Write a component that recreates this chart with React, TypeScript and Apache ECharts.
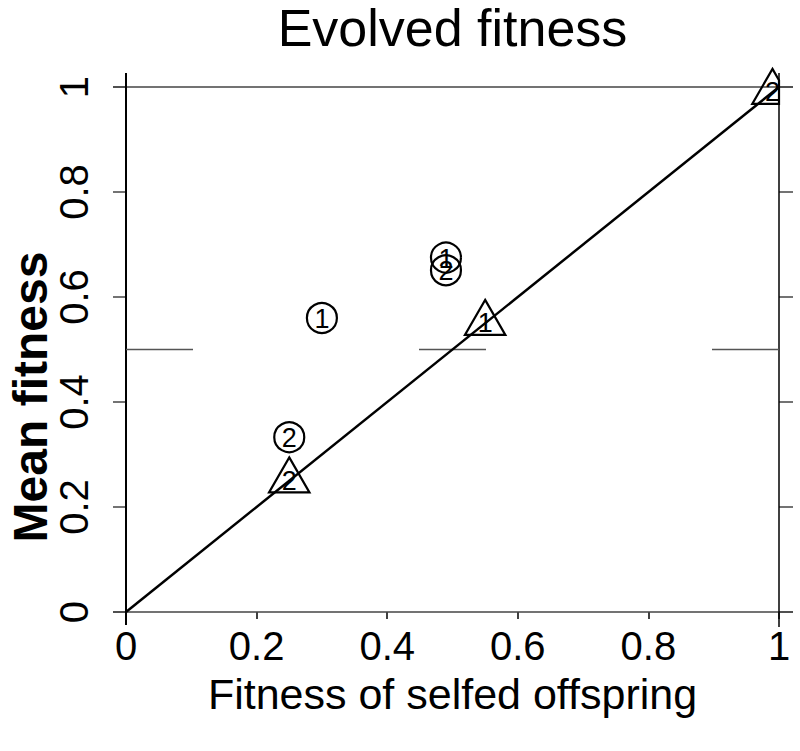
import React, { useEffect, useRef } from 'react';
import * as echarts from 'echarts';

const xTicks = [0, 0.2, 0.4, 0.6, 0.8, 1];
const yTicks = [0, 0.2, 0.4, 0.6, 0.8, 1];
const circleX = [0.30, 0.25, 0.49, 0.49];
const circleY = [0.56, 0.333, 0.675, 0.651];
const circleLabel = ['1', '2', '1', '2'];
const triX = [0.25, 0.55, 0.99];
const triY = [0.25, 0.55, 0.99];
const triLabel = ['2', '1', '2'];
const diagX = [0, 1];
const diagY = [0, 1];
const refLineY = 0.5;

const FONT = '"Liberation Sans", Arial, Helvetica, sans-serif';

function clipRight(pts: number[][], xr: number): number[][] {
  const out: number[][] = [];
  for (let i = 0; i < pts.length; i++) {
    const a = pts[i];
    const b = pts[(i + 1) % pts.length];
    const aIn = a[0] <= xr;
    const bIn = b[0] <= xr;
    if (aIn) out.push(a);
    if (aIn !== bIn) {
      const t = (xr - a[0]) / (b[0] - a[0]);
      out.push([xr, a[1] + t * (b[1] - a[1])]);
    }
  }
  return out;
}

export default function App() {
  const ref = useRef<HTMLDivElement>(null);
  useEffect(() => {
    if (!ref.current) return;
    const chart = echarts.init(ref.current, null, { renderer: 'svg' });
    const option: any = {
      animation: false,
      backgroundColor: '#fff',
      grid: { left: 126, right: 21, top: 87, bottom: 139, containLabel: false },
      xAxis: {
        type: 'value',
        min: xTicks[0],
        max: xTicks[xTicks.length - 1],
        interval: 0.2,
        axisLine: { show: false },
        splitLine: { show: false },
        axisTick: { show: true, length: 7, lineStyle: { color: '#000', width: 1.5 } },
        axisLabel: {
          fontSize: 40,
          color: '#000',
          fontFamily: FONT,
          margin: 14,
          formatter: (v: number) => String(Math.round(v * 10) / 10),
        },
        name: 'Fitness of selfed offspring',
        nameLocation: 'middle',
        nameGap: 60,
        nameTextStyle: { fontSize: 43, color: '#000', fontFamily: FONT },
      },
      yAxis: [
        {
          type: 'value',
          min: yTicks[0],
          max: yTicks[yTicks.length - 1],
          interval: 0.2,
          axisLine: { show: false },
          splitLine: { show: false },
          axisTick: { show: true, length: 13, lineStyle: { color: '#444', width: 1.5 } },
          axisLabel: {
            fontSize: 40,
            color: '#000',
            fontFamily: FONT,
            rotate: 90,
            margin: 32,
            formatter: (v: number) => String(Math.round(v * 10) / 10),
          },
        },
        {
          type: 'value',
          position: 'right',
          min: yTicks[0],
          max: yTicks[yTicks.length - 1],
          interval: 0.2,
          axisLine: { show: false },
          splitLine: { show: false },
          axisTick: { show: true, length: 14, lineStyle: { color: '#444', width: 1.5 } },
          axisLabel: { show: false },
        },
      ],
      series: [
        {
          type: 'line',
          data: [[0, refLineY], [1, refLineY]],
          symbol: 'none',
          silent: true,
          lineStyle: { color: '#555', width: 1.5, type: [67, 226] },
        },
        {
          type: 'line',
          data: diagX.map((x, i) => [x, diagY[i]]),
          symbol: 'none',
          silent: true,
          lineStyle: { color: '#000', width: 2.5 },
          z: 3,
        },
        {
          type: 'custom',
          clip: false,
          silent: true,
          z: 4,
          data: circleX.map((x, i) => [x, circleY[i]]),
          renderItem: (params: any, api: any) => {
            const p = api.coord([api.value(0), api.value(1)]);
            const lab = circleLabel[params.dataIndex];
            return {
              type: 'group',
              children: [
                {
                  type: 'circle',
                  shape: { cx: p[0], cy: p[1], r: 15 },
                  style: { fill: 'none', stroke: '#000', lineWidth: 2.2 },
                },
                {
                  type: 'text',
                  style: {
                    text: lab,
                    x: p[0],
                    y: p[1] + 1,
                    align: 'center',
                    verticalAlign: 'middle',
                    fontSize: 27,
                    fill: '#000',
                    fontFamily: FONT,
                  },
                },
              ],
            };
          },
        },
        {
          type: 'custom',
          clip: false,
          silent: true,
          z: 4,
          data: triX.map((x, i) => [x, triY[i]]),
          renderItem: (params: any, api: any) => {
            const p = api.coord([api.value(0), api.value(1)]);
            const cs = params.coordSys;
            const xr = cs.x + cs.width;
            const s = 15;
            const pts = [
              [p[0], p[1] - 1.555 * s],
              [p[0] + 1.347 * s, p[1] + 0.778 * s],
              [p[0] - 1.347 * s, p[1] + 0.778 * s],
            ];
            const clipped = clipRight(pts, xr);
            const lab = triLabel[params.dataIndex];
            return {
              type: 'group',
              children: [
                {
                  type: 'polygon',
                  shape: { points: clipped },
                  style: { fill: 'none', stroke: '#000', lineWidth: 2.2 },
                },
                {
                  type: 'text',
                  style: {
                    text: lab,
                    x: p[0],
                    y: p[1],
                    align: 'center',
                    verticalAlign: 'middle',
                    fontSize: 27,
                    fill: '#000',
                    fontFamily: FONT,
                  },
                },
              ],
            };
          },
        },
      ],
    };
    chart.setOption(option);

    const toPx = (x: number, y: number) =>
      chart.convertToPixel({ xAxisIndex: 0, yAxisIndex: 0 }, [x, y]) as number[];
    const p00 = toPx(0, 0);
    const p11 = toPx(1, 1);
    const ext = 13;
    chart.setOption({
      graphic: [
        {
          type: 'line',
          z: 2,
          shape: { x1: p00[0] - ext, y1: p00[1], x2: p11[0] + ext + 1, y2: p00[1] },
          style: { stroke: '#444', lineWidth: 1.5 },
        },
        {
          type: 'line',
          z: 2,
          shape: { x1: p00[0] - ext, y1: p11[1], x2: p11[0] + ext + 1, y2: p11[1] },
          style: { stroke: '#444', lineWidth: 1.5 },
        },
        {
          type: 'line',
          z: 2,
          shape: { x1: p00[0], y1: p11[1] - ext - 1, x2: p00[0], y2: p00[1] + ext },
          style: { stroke: '#000', lineWidth: 2 },
        },
        {
          type: 'line',
          z: 2,
          shape: { x1: p11[0], y1: p11[1] - ext - 1, x2: p11[0], y2: p00[1] + ext + 2 },
          style: { stroke: '#000', lineWidth: 1.5 },
        },
        {
          type: 'text',
          x: (p00[0] + p11[0]) / 2,
          y: 28,
          style: {
            text: 'Evolved fitness',
            align: 'center',
            verticalAlign: 'middle',
            fontSize: 52,
            fill: '#000',
            fontFamily: FONT,
          },
        },
        {
          type: 'text',
          x: 30,
          y: 397,
          rotation: Math.PI / 2,
          style: {
            text: 'Mean fitness',
            align: 'center',
            verticalAlign: 'middle',
            fontSize: 48,
            fontWeight: 'bold',
            fill: '#000',
            fontFamily: FONT,
          },
        },
      ],
    });
    return () => chart.dispose();
  }, []);
  return (
    <div
      ref={ref}
      style={{ position: 'fixed', left: 0, top: 0, width: 800, height: 751, background: '#fff' }}
    />
  );
}
